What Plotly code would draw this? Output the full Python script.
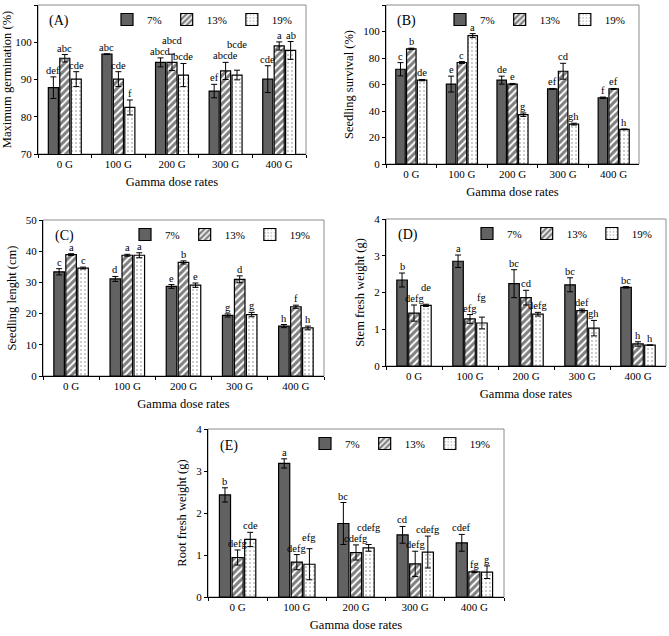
import plotly.graph_objects as go

doses = ["0 G", "100 G", "200 G", "300 G", "400 G"]
series_names = ["7%", "13%", "19%"]

# (A) Maximum germination (%)
germ_7 = [87.8, 96.8, 94.6, 86.9, 90.1]
germ_13 = [95.7, 90.1, 94.6, 92.3, 99.0]
germ_19 = [90.1, 82.5, 91.2, 91.2, 97.8]
germ_7_err = [2.9, 0.1, 1.2, 1.8, 3.6]
germ_13_err = [1.0, 2.0, 2.2, 2.3, 1.1]
germ_19_err = [2.0, 2.0, 3.1, 1.3, 2.4]
germ_7_lab = ["def", "abc", "abcd", "ef", "cde"]
germ_13_lab = ["abc", "cde", "abcd", "abcde", "a"]
germ_19_lab = ["cde", "f", "bcde", "bcde", "ab"]

# (B) Seedling survival (%)
surv_7 = [71.5, 60.3, 63.3, 56.7, 50.0]
surv_13 = [86.9, 76.6, 60.3, 70.0, 56.7]
surv_19 = [63.3, 96.9, 37.2, 30.1, 26.1]
surv_7_err = [5.0, 6.0, 3.0, 0.3, 0.5]
surv_13_err = [0.5, 0.7, 0.5, 6.0, 0.3]
surv_19_err = [0.5, 1.5, 1.3, 0.7, 0.3]
surv_7_lab = ["c", "e", "de", "ef", "f"]
surv_13_lab = ["b", "c", "e", "cd", "ef"]
surv_19_lab = ["de", "a", "g", "gh", "h"]

# (C) Seedling lenght (cm)
len_7 = [33.4, 31.1, 28.7, 19.4, 16.0]
len_13 = [38.9, 38.7, 36.4, 31.0, 22.2]
len_19 = [34.6, 38.7, 29.1, 19.7, 15.4]
len_7_err = [1.0, 0.8, 0.6, 0.5, 0.5]
len_13_err = [0.3, 0.3, 0.5, 1.1, 0.5]
len_19_err = [0.3, 0.8, 0.7, 0.7, 0.6]
len_7_lab = ["c", "d", "e", "g", "h"]
len_13_lab = ["a", "a", "b", "d", "f"]
len_19_lab = ["c", "a", "e", "g", "h"]

# (D) Stem fresh weight (g)
stem_7 = [2.34, 2.85, 2.24, 2.21, 2.14]
stem_13 = [1.44, 1.28, 1.86, 1.51, 0.60]
stem_19 = [1.65, 1.17, 1.41, 1.03, 0.57]
stem_7_err = [0.19, 0.17, 0.38, 0.19, 0.02]
stem_13_err = [0.22, 0.12, 0.20, 0.04, 0.06]
stem_19_err = [0.03, 0.16, 0.05, 0.21, 0.0]
stem_7_lab = ["b", "a", "bc", "bc", "bc"]
stem_13_lab = ["defg", "efg", "cd", "def", "h"]
stem_19_lab = ["de", "fg", "defg", "gh", "h"]

# (E) Root fresh weight (g)
root_7 = [2.43, 3.18, 1.75, 1.48, 1.29]
root_13 = [0.94, 0.83, 1.06, 0.79, 0.60]
root_19 = [1.37, 0.78, 1.17, 1.07, 0.59]
root_7_err = [0.17, 0.11, 0.50, 0.20, 0.20]
root_13_err = [0.18, 0.18, 0.18, 0.30, 0.02]
root_19_err = [0.17, 0.37, 0.08, 0.38, 0.15]
root_7_lab = ["b", "a", "bc", "cd", "cdef"]
root_13_lab = ["defg", "defg", "cdefg", "defg", "fg"]
root_19_lab = ["cde", "efg", "cdefg", "cdefg", "g"]

W, H = 669, 636
FONT = "Liberation Serif, Times New Roman, serif"
BARGAP = 0.36
BARGROUPGAP = 0.12
LABEL_SIZE = 10.5
CHAR_W = 5.0      # approx. px per character of letter labels
LINE_H = 11.0     # approx. px height of letter labels

panels = [
    dict(tag="(A)", vals=[germ_7, germ_13, germ_19], errs=[germ_7_err, germ_13_err, germ_19_err],
         labs=[germ_7_lab, germ_13_lab, germ_19_lab], ytitle="Maximum germination (%)",
         yrange=[70, 110], dtick=10, px=(38, 306, 5, 154)),
    dict(tag="(B)", vals=[surv_7, surv_13, surv_19], errs=[surv_7_err, surv_13_err, surv_19_err],
         labs=[surv_7_lab, surv_13_lab, surv_19_lab], ytitle="Seedling survival (%)",
         yrange=[0, 120], dtick=20, px=(386, 639, 5, 164)),
    dict(tag="(C)", vals=[len_7, len_13, len_19], errs=[len_7_err, len_13_err, len_19_err],
         labs=[len_7_lab, len_13_lab, len_19_lab], ytitle="Seedling lenght (cm)",
         yrange=[0, 50], dtick=10, px=(43, 324, 220, 376)),
    dict(tag="(D)", vals=[stem_7, stem_13, stem_19], errs=[stem_7_err, stem_13_err, stem_19_err],
         labs=[stem_7_lab, stem_13_lab, stem_19_lab], ytitle="Stem fresh weight (g)",
         yrange=[0, 4], dtick=1, px=(386, 666, 219, 366)),
    dict(tag="(E)", vals=[root_7, root_13, root_19], errs=[root_7_err, root_13_err, root_19_err],
         labs=[root_7_lab, root_13_lab, root_19_lab], ytitle="Root fresh weight (g)",
         yrange=[0, 4], dtick=1, px=(208, 504, 429, 597)),
]

styles = [
    dict(color="#626262", pattern=dict(shape="")),
    dict(color="white", pattern=dict(shape="/", fgcolor="black", size=5, solidity=0.6)),
    dict(color="white", pattern=dict(shape=".", fgcolor="#7a7a7a", size=4, solidity=0.2)),
]

fig = go.Figure()
annotations = []
shapes = []
layout_extra = {}

for p_i, p in enumerate(panels):
    n = "" if p_i == 0 else str(p_i + 1)
    xa, ya = "x" + n, "y" + n
    leg = "legend" + n
    x0, x1, y0, y1 = p["px"]
    ppu = (y1 - y0) / (p["yrange"][1] - p["yrange"][0])   # pixels per data unit
    cat_px = (x1 - x0) / len(doses)
    w = (1 - BARGAP) / 3
    for k in range(3):
        st = styles[k]
        fig.add_trace(go.Bar(
            x=doses, y=p["vals"][k], name=series_names[k],
            xaxis=xa, yaxis=ya, legend=leg, showlegend=True,
            marker=dict(color=st["color"], line=dict(color="black", width=1.2),
                        pattern=st["pattern"]),
            error_y=dict(type="data", array=p["errs"][k], color="black", thickness=1, width=3),
        ))
    # letter labels with simple collision avoidance inside each group
    for i in range(len(doses)):
        placed = []  # (center_px, width_px, bottom_px_from_axis)
        for k in range(3):
            top = p["vals"][k][i] + p["errs"][k][i]
            base_px = (top - p["yrange"][0]) * ppu
            cx = ((k - 1) * w) * cat_px
            tw = len(p["labs"][k][i]) * CHAR_W
            bottom = base_px
            for (pc, pw, pb) in placed:
                if abs(cx - pc) < (tw + pw) / 2 + 1 and abs(bottom - pb) < LINE_H:
                    bottom = pb + LINE_H
            placed.append((cx, tw, bottom))
            annotations.append(dict(
                x=i + (k - 1) * w, y=top, xref=xa, yref=ya, text=p["labs"][k][i],
                showarrow=False, yanchor="bottom", yshift=bottom - base_px - 1,
                font=dict(size=LABEL_SIZE, family=FONT, color="black"),
            ))
    annotations.append(dict(
        x=0.035, y=0.96, xref=xa + " domain", yref=ya + " domain", text=p["tag"],
        showarrow=False, xanchor="left", yanchor="top",
        font=dict(size=14, family=FONT, color="black"),
    ))
    shapes.append(dict(type="rect", xref=xa + " domain", yref=ya + " domain",
                       x0=0, x1=1, y0=0, y1=1, line=dict(color="#8c8c8c", width=1),
                       layer="below"))
    axn = "" if p_i == 0 else str(p_i + 1)
    layout_extra["xaxis" + axn] = dict(
        domain=[x0 / W, x1 / W], anchor=ya, showline=True, linecolor="black", linewidth=1,
        ticks="outside", ticklen=3, tickson="boundaries", tickcolor="black",
        tickfont=dict(size=11, family=FONT, color="black"), automargin=False,
        title=dict(text="Gamma dose rates", font=dict(size=12.5, family=FONT, color="black"),
                   standoff=8),
        showgrid=False, zeroline=False,
    )
    layout_extra["yaxis" + axn] = dict(
        domain=[1 - y1 / H, 1 - y0 / H], anchor=xa, range=p["yrange"], dtick=p["dtick"],
        showline=True, linecolor="black", linewidth=1, ticks="outside", ticklen=3,
        tickcolor="black", tickfont=dict(size=11, family=FONT, color="black"), automargin=False,
        title=dict(text=p["ytitle"], font=dict(size=12.5, family=FONT, color="black"), standoff=6),
        showgrid=False, zeroline=False,
    )
    layout_extra[leg] = dict(
        orientation="h", x=(x1 - 8) / W, xanchor="right", y=1 - (y0 + 0) / H, yanchor="top",
        bgcolor="rgba(0,0,0,0)", font=dict(size=11, family=FONT, color="black"),
        itemwidth=30, tracegroupgap=0,
    )

fig.update_layout(
    width=W, height=H, margin=dict(l=0, r=0, t=0, b=0, autoexpand=False),
    paper_bgcolor="white", plot_bgcolor="white",
    barmode="group", bargap=BARGAP, bargroupgap=BARGROUPGAP,
    font=dict(family=FONT, color="black"),
    annotations=annotations, shapes=shapes,
    **layout_extra,
)

fig.write_html("out.html", config={"displayModeBar": False},
               post_script="document.body.style.margin='0px';")
